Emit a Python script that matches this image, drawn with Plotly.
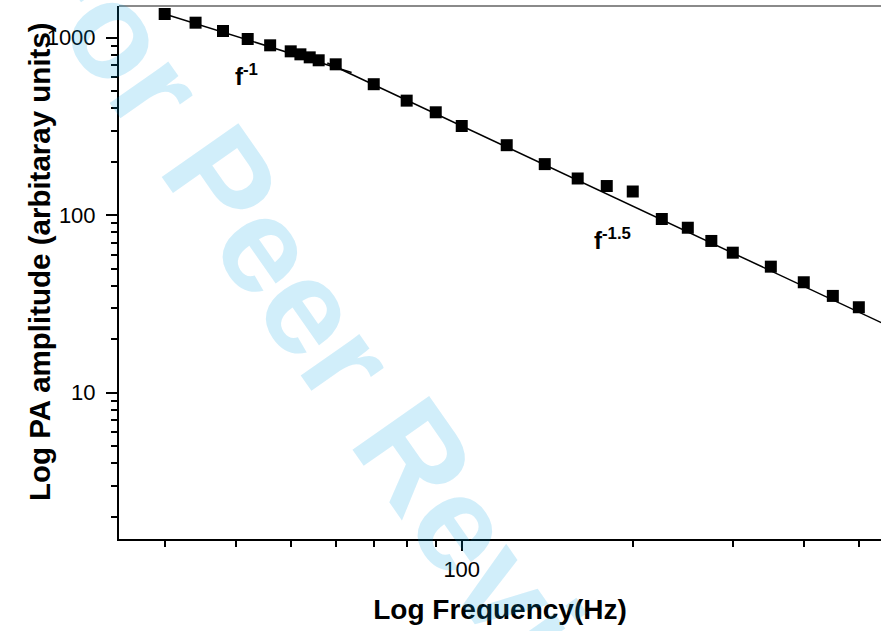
import plotly.graph_objects as go

# ---- data ----
freq_hz = [30, 34, 38, 42, 46, 50, 52, 54, 56, 60, 70, 80, 90, 100, 120, 140,
           160, 180, 200, 225, 250, 275, 300, 350, 400, 450, 500]
pa_amplitude = [1360, 1215, 1091, 983, 906, 838, 806, 775, 746, 708, 547, 442,
                380, 318, 248, 194, 161, 146, 136, 95.2, 85.0, 71.6, 61.5,
                51.3, 41.9, 35.1, 30.3]

# power-law fits  A = coef * f**exponent
fit1_coef, fit1_exp, fit1_range = 40800, -1.0, [30, 64]
fit2_coef, fit2_exp, fit2_range = 318000, -1.5, [58, 600]

x_tick_vals = [100]
x_tick_text = ["100"]
x_minor_vals = [30, 40, 50, 60, 70, 80, 90, 200, 300, 400, 500]
y_tick_vals = [10, 100, 1000]
y_tick_text = ["10", "100", "1000"]
y_minor_vals = [m * d for d in (1, 10, 100) for m in range(2, 10)]

FONT = "Liberation Sans, Arial, Helvetica, sans-serif"

fig = go.Figure()

for coef, ex, rng in ((fit1_coef, fit1_exp, fit1_range),
                      (fit2_coef, fit2_exp, fit2_range)):
    fig.add_trace(go.Scatter(
        x=rng, y=[coef * f ** ex for f in rng], mode="lines",
        line=dict(color="black", width=1.5), showlegend=False,
        hoverinfo="skip"))

fig.add_trace(go.Scatter(
    x=freq_hz, y=pa_amplitude, mode="markers",
    marker=dict(symbol="square", size=12, color="black",
                line=dict(width=0)),
    showlegend=False))

# watermark
fig.add_annotation(
    text="<b>For Peer Review</b>", xref="paper", yref="paper",
    x=0.305, y=0.325, xanchor="center", yanchor="middle",
    textangle=55, showarrow=False,
    font=dict(family=FONT, size=136, color="rgba(0,160,230,0.18)"))

# labels
fig.add_annotation(
    text="<b>f<sup>-1</sup></b>", x=1.5974, y=2.79, xref="x", yref="y",
    xanchor="left", yanchor="middle", showarrow=False,
    font=dict(family=FONT, size=24, color="black"))
fig.add_annotation(
    text="<b>f<sup>-1.5</sup></b>", x=2.2294, y=1.866, xref="x", yref="y",
    xanchor="left", yanchor="middle", showarrow=False,
    font=dict(family=FONT, size=24, color="black"))

# y-axis title
fig.add_annotation(
    text="<b>Log PA amplitude (arbitaray units)</b>", xref="paper", yref="paper",
    x=-0.1037, y=0.5216, xanchor="center", yanchor="middle",
    textangle=-90, showarrow=False,
    font=dict(family=FONT, size=29.5, color="black"))

# top frame line
fig.add_shape(type="line", xref="paper", yref="paper", x0=0, x1=1, y0=1, y1=1,
              line=dict(color="#8a8a8a", width=2))

fig.update_layout(
    width=881, height=631,
    margin=dict(l=119, r=0, t=6, b=92),
    paper_bgcolor="white", plot_bgcolor="white",
    font=dict(family=FONT, color="black"),
    xaxis=dict(
        type="log", range=[1.3967, 2.738], automargin=False,
        tickmode="array", tickvals=x_tick_vals, ticktext=x_tick_text,
        ticks="outside", ticklen=10, tickwidth=2, tickcolor="black",
        tickfont=dict(family=FONT, size=22, color="black"),
        minor=dict(tickvals=x_minor_vals, ticks="outside", ticklen=6,
                   tickwidth=2, tickcolor="black", showgrid=False),
        showline=True, linecolor="black", linewidth=2,
        showgrid=False, zeroline=False,
        title=dict(text="<b>Log Frequency(Hz)</b>", standoff=18,
                   font=dict(family=FONT, size=28, color="black")),
    ),
    yaxis=dict(
        type="log", range=[0.1758, 3.1786], automargin=False,
        tickmode="array", tickvals=y_tick_vals, ticktext=y_tick_text,
        ticks="outside", ticklen=11, tickwidth=2, tickcolor="black",
        ticklabelstandoff=6,
        tickfont=dict(family=FONT, size=22, color="black"),
        minor=dict(tickvals=y_minor_vals, ticks="outside", ticklen=6,
                   tickwidth=2, tickcolor="black", showgrid=False),
        showline=True, linecolor="black", linewidth=2,
        showgrid=False, zeroline=False,
    ),
)

fig.write_html("out.html",
               config={"displayModeBar": False},
               post_script="document.body.style.margin='0';"
                           "document.body.style.overflow='hidden';")
